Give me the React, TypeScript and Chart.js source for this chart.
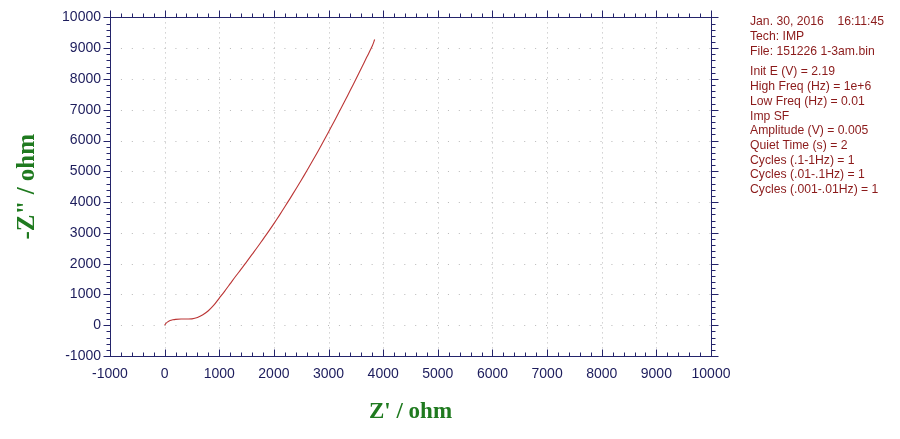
import React, { useEffect, useRef } from "react";
import { Chart, registerables } from "chart.js";

Chart.register(...registerables);

const zReal = [0, 20, 50, 100, 150, 200, 300, 400, 500, 600, 700, 800, 900, 1000, 1100, 1200, 1300, 1400, 1500, 1600, 1700, 1800, 1900, 2000, 2100, 2200, 2300, 2400, 2500, 2600, 2700, 2800, 2900, 3000, 3100, 3200, 3300, 3400, 3500, 3600, 3700, 3800, 3844];
const zImag = [0, 50, 100, 150, 175, 190, 200, 200, 205, 250, 340, 470, 650, 880, 1110, 1350, 1590, 1820, 2060, 2300, 2540, 2790, 3040, 3300, 3570, 3850, 4130, 4420, 4710, 5010, 5320, 5630, 5950, 6280, 6610, 6950, 7290, 7640, 7990, 8350, 8710, 9070, 9280];

const xTicks = [-1000, 0, 1000, 2000, 3000, 4000, 5000, 6000, 7000, 8000, 9000, 10000];
const yTicks = [-1000, 0, 1000, 2000, 3000, 4000, 5000, 6000, 7000, 8000, 9000, 10000];

const infoLines = [
  "Jan. 30, 2016    16:11:45",
  "Tech: IMP",
  "File: 151226 1-3am.bin",
  "",
  "Init E (V) = 2.19",
  "High Freq (Hz) = 1e+6",
  "Low Freq (Hz) = 0.01",
  "Imp SF",
  "Amplitude (V) = 0.005",
  "Quiet Time (s) = 2",
  "Cycles (.1-1Hz) = 1",
  "Cycles (.01-.1Hz) = 1",
  "Cycles (.001-.01Hz) = 1",
];

const xTitle = "Z' / ohm";
const yTitle = '-Z" / ohm';

const AXIS_COLOR = "#24246b";
const LABEL_COLOR = "#1c1c5c";
const TITLE_COLOR = "#1f7a1f";
const INFO_COLOR = "#8b1a1a";
const LINE_COLOR = "#bb3535";

const framePlugin = {
  id: "frame",
  beforeDatasetsDraw(chart: any) {
    const { ctx, scales } = chart;
    const xs = scales.x;
    const ys = scales.y;
    const left = xs.getPixelForValue(xTicks[0]);
    const right = xs.getPixelForValue(xTicks[xTicks.length - 1]);
    const bottom = ys.getPixelForValue(yTicks[0]);
    const top = ys.getPixelForValue(yTicks[yTicks.length - 1]);
    ctx.save();
    ctx.strokeStyle = "#b8b8b8";
    ctx.lineWidth = 1;
    ctx.setLineDash([1, 4]);
    for (const v of xTicks) {
      const px = Math.round(xs.getPixelForValue(v)) + 0.5;
      if (px <= left + 1 || px >= right - 1) continue;
      ctx.beginPath();
      ctx.moveTo(px, top);
      ctx.lineTo(px, bottom);
      ctx.stroke();
    }
    ctx.setLineDash([1, 9.9]);
    for (const v of yTicks) {
      const py = Math.round(ys.getPixelForValue(v)) + 0.5;
      if (py <= top + 1 || py >= bottom - 1) continue;
      ctx.beginPath();
      ctx.moveTo(left + (right - left) / 55, py);
      ctx.lineTo(right, py);
      ctx.stroke();
    }
    ctx.restore();
  },
  afterDraw(chart: any) {
    const { ctx, scales } = chart;
    const xs = scales.x;
    const ys = scales.y;
    const left = xs.getPixelForValue(xTicks[0]);
    const right = xs.getPixelForValue(xTicks[xTicks.length - 1]);
    const bottom = ys.getPixelForValue(yTicks[0]);
    const top = ys.getPixelForValue(yTicks[yTicks.length - 1]);
    ctx.save();
    ctx.strokeStyle = AXIS_COLOR;
    ctx.lineWidth = 1;
    ctx.setLineDash([]);
    const L = Math.round(left) + 0.5;
    const R = Math.round(right) + 0.5;
    const T = Math.round(top) + 0.5;
    const B = Math.round(bottom) + 0.5;
    ctx.strokeRect(L, T, R - L, B - T);
    const xMin = xTicks[0];
    const xMax = xTicks[xTicks.length - 1];
    for (let v = xMin; v <= xMax; v += 200) {
      const major = v % 1000 === 0;
      const len = major ? 7 : 4;
      const px = Math.round(xs.getPixelForValue(v)) + 0.5;
      ctx.beginPath();
      ctx.moveTo(px, B);
      ctx.lineTo(px, B - len);
      ctx.moveTo(px, T);
      ctx.lineTo(px, T - len);
      ctx.stroke();
    }
    const yMin = yTicks[0];
    const yMax = yTicks[yTicks.length - 1];
    for (let v = yMin; v <= yMax; v += 200) {
      const major = v % 1000 === 0;
      const len = major ? 7 : 4;
      const py = Math.round(ys.getPixelForValue(v)) + 0.5;
      ctx.beginPath();
      ctx.moveTo(L, py);
      ctx.lineTo(L - len, py);
      ctx.moveTo(R, py);
      ctx.lineTo(R + len, py);
      ctx.stroke();
    }
    // axis titles
    ctx.fillStyle = TITLE_COLOR;
    ctx.textAlign = "center";
    ctx.textBaseline = "middle";
    ctx.font = "bold 23px 'Liberation Serif', 'DejaVu Serif', serif";
    ctx.fillText(xTitle, (left + right) / 2, 412);
    ctx.save();
    ctx.font = "bold 25px 'Liberation Serif', 'DejaVu Serif', serif";
    ctx.translate(28, (top + bottom) / 2);
    ctx.rotate(-Math.PI / 2);
    ctx.fillText(yTitle, 0, 0);
    ctx.restore();
    // info text
    ctx.fillStyle = INFO_COLOR;
    ctx.font = "12.2px 'Liberation Sans', Arial, sans-serif";
    ctx.textAlign = "left";
    ctx.textBaseline = "middle";
    let y = 22;
    for (const line of infoLines) {
      if (line === "") {
        y += 6;
        continue;
      }
      ctx.fillText(line, 750, y);
      y += 14.7;
    }
    ctx.restore();
  },
};

export default function App() {
  const ref = useRef<HTMLCanvasElement | null>(null);
  useEffect(() => {
    document.body.style.margin = "0";
    if (!ref.current) return;
    const data = zReal.map((x, i) => ({ x, y: zImag[i] }));
    const chart = new Chart(ref.current, {
      type: "scatter",
      data: {
        datasets: [
          {
            data,
            showLine: true,
            borderColor: LINE_COLOR,
            borderWidth: 1.1,
            pointRadius: 0,
            tension: 0.3,
          },
        ],
      },
      plugins: [framePlugin],
      options: {
        animation: false,
        responsive: true,
        maintainAspectRatio: false,
        layout: { autoPadding: false, padding: { left: 0, top: 16, right: 189, bottom: 0 } },
        plugins: { legend: { display: false }, tooltip: { enabled: false } },
        scales: {
          x: {
            type: "linear",
            min: xTicks[0],
            max: xTicks[xTicks.length - 1],
            afterFit: (s: any) => {
              s.height = 83;
            },
            afterBuildTicks: (s: any) => {
              s.ticks = xTicks.map((v) => ({ value: v }));
            },
            grid: { display: false, drawTicks: false },
            border: { display: false },
            ticks: {
              color: LABEL_COLOR,
              padding: 10,
              maxRotation: 0,
              autoSkip: false,
              callback: (v: any) => String(v),
              font: { family: "'Liberation Sans', Arial, sans-serif", size: 14 },
            },
          },
          y: {
            type: "linear",
            min: yTicks[0],
            max: yTicks[yTicks.length - 1],
            afterFit: (s: any) => {
              s.width = 110;
            },
            afterBuildTicks: (s: any) => {
              s.ticks = yTicks.map((v) => ({ value: v }));
            },
            grid: { display: false, drawTicks: false },
            border: { display: false },
            ticks: {
              color: LABEL_COLOR,
              padding: 9,
              autoSkip: false,
              callback: (v: any) => String(v),
              font: { family: "'Liberation Sans', Arial, sans-serif", size: 14 },
            },
          },
        },
      },
    });
    return () => chart.destroy();
  }, []);
  return (
    <div style={{ position: "fixed", left: 0, top: 0, width: 900, height: 439, background: "#fff" }}>
      <canvas ref={ref} />
    </div>
  );
}
